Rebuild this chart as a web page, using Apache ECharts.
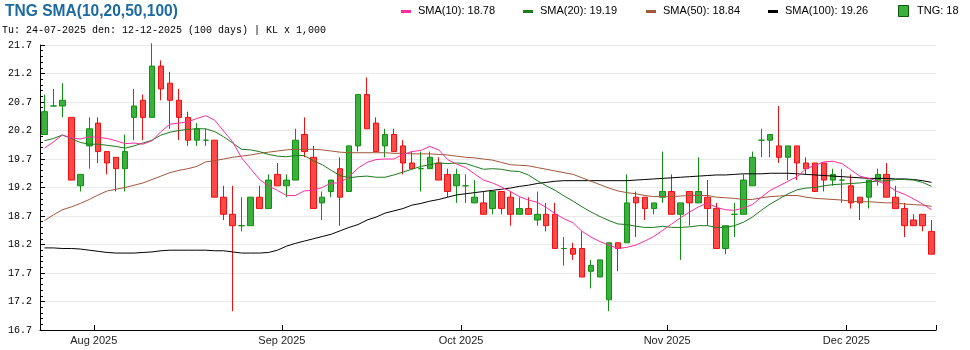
<!DOCTYPE html>
<html>
<head>
<meta charset="utf-8">
<script src="https://cdn.jsdelivr.net/npm/echarts@6/dist/echarts.min.js"></script>
<style>
  html, body { margin: 0; padding: 0; background: #ffffff; }
  #chart { width: 970px; height: 350px; }
</style>
</head>
<body>
<div id="chart"></div>
<script>
// Trading sessions, 24-07-2025 .. 12-12-2025
const dates = [
  '2025-07-24','2025-07-25','2025-07-28','2025-07-29','2025-07-30','2025-07-31',
  '2025-08-01','2025-08-04','2025-08-05','2025-08-06','2025-08-07','2025-08-08','2025-08-11','2025-08-12',
  '2025-08-13','2025-08-14','2025-08-15','2025-08-18','2025-08-19','2025-08-20','2025-08-21','2025-08-22',
  '2025-08-25','2025-08-26','2025-08-27','2025-08-28','2025-08-29',
  '2025-09-03','2025-09-04','2025-09-05','2025-09-08','2025-09-09','2025-09-10','2025-09-11','2025-09-12',
  '2025-09-15','2025-09-16','2025-09-17','2025-09-18','2025-09-19','2025-09-22','2025-09-23','2025-09-24',
  '2025-09-25','2025-09-26','2025-09-29','2025-09-30',
  '2025-10-01','2025-10-02','2025-10-03','2025-10-06','2025-10-07','2025-10-08','2025-10-09','2025-10-10',
  '2025-10-13','2025-10-14','2025-10-15','2025-10-16','2025-10-17','2025-10-20','2025-10-21','2025-10-22',
  '2025-10-23','2025-10-24','2025-10-27','2025-10-28','2025-10-29','2025-10-30','2025-10-31',
  '2025-11-03','2025-11-04','2025-11-05','2025-11-06','2025-11-07','2025-11-10','2025-11-11','2025-11-12',
  '2025-11-13','2025-11-14','2025-11-17','2025-11-18','2025-11-19','2025-11-20','2025-11-21','2025-11-24',
  '2025-11-25','2025-11-26','2025-11-27','2025-11-28',
  '2025-12-01','2025-12-02','2025-12-03','2025-12-04','2025-12-05','2025-12-08','2025-12-09','2025-12-10',
  '2025-12-11','2025-12-12'
];

// Daily prices (thousand VND)
const opens = [
  20.1,20.6,20.6,20.4,19.2,19.9,20.3,19.8,19.7,19.5, 20.4,20.7,20.4,21.3,21.0,20.7,20.4,20.0,20.0,20.0,
  19.0,18.7,18.5,18.5,19.0,18.8,19.4,19.2,19.3,20.1, 19.7,18.9,19.1,19.5,19.1,19.9,20.8,20.3,19.9,20.1,
  19.9,19.6,19.5,19.5,19.6,19.4,19.2,19.2,18.9,18.9, 18.8,19.1,19.0,18.7,18.8,18.6,18.7,18.7,18.1,18.1,
  18.1,17.7,17.6,17.2,18.2,18.2,19.0,19.0,18.8,19.0, 19.1,18.7,19.1,18.9,19.0,18.8,18.1,18.7,18.7,19.2,
  20.0,20.0,19.9,19.7,19.9,19.6,19.6,19.6,19.3,19.3, 19.2,19.0,19.0,19.3,19.4,19.0,18.8,18.6,18.7,18.4
];
const closes = [
  20.5,20.6,20.7,19.3,19.4,20.2,19.8,19.6,19.5,19.8, 20.6,20.4,21.3,20.9,20.7,20.4,20.0,20.2,20.0,19.0,
  18.7,18.5,18.5,19.0,18.8,19.3,19.2,19.3,20.0,19.8, 18.8,19.0,19.3,19.0,19.9,20.8,20.2,19.8,20.1,19.8,
  19.6,19.5,19.5,19.7,19.3,19.1,19.4,19.2,19.0,18.7, 19.1,18.8,18.7,18.8,18.7,18.7,18.5,18.1,18.1,18.0,
  17.6,17.8,17.9,18.2,18.1,18.9,18.9,18.8,18.9,19.1, 18.7,18.9,18.9,19.1,18.8,18.1,18.5,18.7,19.3,19.7,
  20.0,20.1,19.7,19.9,19.6,19.5,19.1,19.3,19.4,19.3, 18.9,18.9,19.3,19.4,19.0,18.8,18.5,18.5,18.5,18.0
];
const lows = [
  20.1,20.6,20.4,19.3,19.1,19.5,19.6,19.4,19.1,19.1, 20.0,20.0,20.4,20.7,20.2,20.0,19.9,19.9,19.9,19.0,
  18.6,17.0,18.4,18.5,18.8,18.8,19.2,19.0,19.3,19.7, 18.8,18.6,19.0,18.5,19.1,19.8,20.2,19.8,19.7,19.8,
  19.4,19.5,19.1,19.5,19.3,19.0,18.9,18.9,18.9,18.7, 18.7,18.7,18.5,18.7,18.7,18.5,18.4,18.1,17.8,17.9,
  17.6,17.4,17.6,17.0,17.7,18.2,18.3,18.6,18.7,18.9, 18.7,17.9,18.5,18.9,18.5,18.1,18.0,18.3,18.7,19.2,
  19.7,19.7,19.6,19.3,19.3,19.4,19.1,19.1,19.2,18.9, 18.8,18.6,18.8,19.2,19.0,18.8,18.3,18.5,18.4,18.0
];
const highs = [
  20.8,20.9,21.0,20.4,19.4,20.4,20.4,19.8,19.7,20.1, 20.9,20.8,21.7,21.4,21.2,20.9,20.5,20.3,20.2,20.0,
  19.2,19.2,19.0,19.0,19.2,19.4,19.6,19.4,20.2,20.4, 19.9,19.1,19.3,19.7,19.9,20.8,21.1,20.4,20.2,20.2,
  20.0,19.8,19.8,19.8,19.7,19.5,19.5,19.4,19.3,19.1, 19.1,19.1,19.1,19.0,19.0,19.1,18.9,18.9,18.3,18.2,
  18.4,17.9,17.9,18.2,18.2,19.4,19.1,19.0,18.9,19.8, 19.4,18.9,19.1,19.7,19.3,18.9,18.5,18.9,19.4,19.8,
  20.2,20.1,20.6,19.9,19.9,19.7,19.6,19.6,19.5,19.5, 19.4,19.0,19.3,19.5,19.6,19.2,18.9,18.7,18.7,18.6
];

// Moving averages
const sma10 = [
  19.86,19.97,20.09,20.04,20.02,20.06,20.05,20.03,19.99,19.94, 19.95,19.93,19.99,20.15,20.28,20.30,20.32,20.38,20.43,20.35,
  20.16,19.97,19.69,19.50,19.31,19.20,19.12,19.03,19.03,19.11, 19.12,19.17,19.25,19.25,19.36,19.51,19.61,19.66,19.67,19.67,
  19.75,19.80,19.82,19.89,19.83,19.66,19.58,19.52,19.41,19.30, 19.25,19.18,19.10,19.01,18.95,18.91,18.82,18.71,18.62,18.55,
  18.40,18.30,18.22,18.16,18.10,18.12,18.16,18.23,18.31,18.42, 18.53,18.64,18.74,18.83,18.90,18.82,18.78,18.77,18.81,18.87,
  19.00,19.12,19.20,19.28,19.36,19.50,19.56,19.62,19.63,19.59, 19.48,19.37,19.33,19.28,19.22,19.11,19.05,18.97,18.88,18.78
];
const sma20 = [
  19.99,20.03,20.09,20.03,19.96,19.93,19.93,19.91,19.89,19.86, 19.90,19.95,20.00,20.09,20.14,20.17,20.19,20.20,20.20,20.15,
  20.06,19.95,19.84,19.83,19.80,19.75,19.72,19.71,19.73,19.73, 19.64,19.57,19.47,19.38,19.34,19.36,19.37,19.35,19.35,19.39,
  19.44,19.49,19.54,19.57,19.60,19.59,19.60,19.59,19.54,19.49, 19.50,19.49,19.46,19.45,19.39,19.29,19.20,19.12,19.02,18.93,
  18.83,18.74,18.66,18.59,18.53,18.52,18.49,18.47,18.47,18.49, 18.47,18.47,18.48,18.50,18.50,18.47,18.47,18.50,18.56,18.65,
  18.77,18.88,18.97,19.06,19.13,19.16,19.17,19.20,19.22,19.23, 19.24,19.25,19.27,19.28,19.29,19.31,19.31,19.30,19.26,19.19
];
const sma50 = [
  18.59,18.69,18.78,18.83,18.89,18.96,19.04,19.11,19.14,19.17, 19.21,19.25,19.31,19.37,19.43,19.47,19.50,19.54,19.62,19.64,
  19.67,19.70,19.72,19.74,19.77,19.79,19.81,19.83,19.84,19.84, 19.84,19.83,19.81,19.79,19.78,19.78,19.78,19.78,19.78,19.77,
  19.77,19.76,19.76,19.76,19.75,19.74,19.72,19.70,19.69,19.67, 19.65,19.61,19.57,19.56,19.55,19.52,19.49,19.46,19.43,19.40,
  19.34,19.28,19.22,19.16,19.11,19.08,19.06,19.03,19.01,19.01, 19.01,19.02,19.03,19.03,19.03,19.00,18.99,18.98,18.96,18.96,
  18.99,19.01,19.02,19.03,19.03,19.00,18.98,18.97,18.96,18.95, 18.93,18.92,18.92,18.91,18.90,18.90,18.88,18.87,18.86,18.84
];
const sma100 = [
  18.11,18.11,18.10,18.10,18.09,18.07,18.05,18.03,18.02,18.02, 18.02,18.03,18.04,18.06,18.07,18.07,18.07,18.07,18.07,18.06,
  18.06,18.04,18.02,18.02,18.02,18.03,18.07,18.14,18.19,18.23, 18.27,18.31,18.35,18.41,18.47,18.52,18.60,18.65,18.72,18.76,
  18.80,18.86,18.89,18.93,18.96,19.00,19.04,19.06,19.08,19.10, 19.12,19.14,19.16,19.19,19.21,19.24,19.26,19.28,19.29,19.29,
  19.29,19.29,19.29,19.29,19.29,19.29,19.30,19.31,19.32,19.33, 19.34,19.35,19.36,19.37,19.38,19.39,19.39,19.40,19.41,19.41,
  19.41,19.42,19.42,19.42,19.41,19.40,19.39,19.38,19.37,19.36, 19.35,19.34,19.33,19.33,19.33,19.32,19.32,19.31,19.29,19.26
];

const yTicks = { min: 16.67, max: 21.67, step: 0.5 };
const monthNames = ['Jan','Feb','Mar','Apr','May','Jun','Jul','Aug','Sep','Oct','Nov','Dec'];

const COL = {
  sma10: '#ff2ca0', sma20: '#1d7a1d', sma50: '#a0583a', sma100: '#000000',
  upFill: '#3cb03c', upLine: '#109010', downFill: '#ff4848', downLine: '#ee1010',
  title: '#1b6aa0'
};

// unchanged sessions (open == close) are drawn in the rising colour
const candles = opens.map((o, i) => {
  const value = [o, closes[i], lows[i], highs[i]];
  if (o !== closes[i]) return value;
  return { value, itemStyle: { color: COL.upFill, color0: COL.upFill, borderColor: COL.upLine, borderColor0: COL.upLine } };
});

// first session of each new month gets a tick and a label
const isMonthStart = (idx) => idx > 0 && dates[idx].slice(5, 7) !== dates[idx - 1].slice(5, 7);

const sans = 'Arial, "Liberation Sans", sans-serif';
const mono = '"Liberation Mono", "DejaVu Sans Mono", monospace';

const legendItems = [
  { label: 'SMA(10)', color: COL.sma10, value: sma10[sma10.length - 1].toFixed(2), x: 401 },
  { label: 'SMA(20)', color: COL.sma20, value: sma20[sma20.length - 1].toFixed(2), x: 523 },
  { label: 'SMA(50)', color: COL.sma50, value: sma50[sma50.length - 1].toFixed(2), x: 646 },
  { label: 'SMA(100)', color: COL.sma100, value: sma100[sma100.length - 1].toFixed(2), x: 768 }
];
const graphics = [
  { type: 'text', x: 5, y: 3, scaleX: 0.915, scaleY: 1,
    style: { text: 'TNG SMA(10,20,50,100)', fill: COL.title, font: 'bold 17px ' + sans, verticalAlign: 'top' } },
  { type: 'text', x: 2, y: 25,
    style: { text: 'Tu: 24-07-2025 den: 12-12-2025 (100 days) | KL x 1,000', fill: '#000', font: '10px ' + mono, verticalAlign: 'top' } }
];
legendItems.forEach(it => {
  graphics.push({ type: 'rect', x: it.x, y: 10, shape: { width: 10, height: 3 }, style: { fill: it.color } });
  graphics.push({ type: 'text', x: it.x + 17, y: 5,
    style: { text: it.label + ': ' + it.value, fill: '#000', font: '11px ' + sans, verticalAlign: 'top' } });
});
graphics.push({ type: 'rect', x: 898.5, y: 5.5, shape: { width: 10, height: 11 },
  style: { fill: COL.upFill, stroke: '#0a5a0a', lineWidth: 1 } });
graphics.push({ type: 'text', x: 917, y: 5,
  style: { text: 'TNG: ' + closes[closes.length - 1], fill: '#000', font: '11px ' + sans, verticalAlign: 'top' } });

const chart = echarts.init(document.getElementById('chart'), null, { renderer: 'canvas' });

chart.setOption({
  animation: false,
  backgroundColor: '#ffffff',
  graphic: graphics,
  grid: { left: 40, right: 34, top: 45, bottom: 20, containLabel: false },
  xAxis: {
    type: 'category',
    data: dates,
    boundaryGap: true,
    axisLine: { show: true, lineStyle: { color: '#000', width: 1 } },
    axisTick: { show: true, inside: true, length: 5, alignWithLabel: false,
                interval: (idx) => isMonthStart(idx), lineStyle: { color: '#000' } },
    axisLabel: {
      show: true, interval: (idx) => isMonthStart(idx), margin: 5,
      color: '#222', fontSize: 11, fontFamily: sans, padding: [0, 9, 0, 0],
      formatter: (v) => monthNames[parseInt(v.slice(5, 7), 10) - 1] + ' ' + v.slice(0, 4)
    },
    splitLine: { show: false }
  },
  yAxis: {
    type: 'value',
    min: yTicks.min, max: yTicks.max, interval: yTicks.step,
    axisLine: { show: true, lineStyle: { color: '#000', width: 1 } },
    axisTick: { show: true, inside: true, length: 5, lineStyle: { color: '#000' } },
    minorTick: { show: true, splitNumber: 5, length: 3, lineStyle: { color: '#000' } },
    axisLabel: { show: true, margin: 8, color: '#000', fontSize: 10, fontFamily: mono,
                 formatter: (v) => (Math.round(v * 10) / 10).toFixed(1) },
    splitLine: { show: true, lineStyle: { color: '#e9e9e9', width: 1 } },
    minorSplitLine: { show: false }
  },
  series: [
    {
      name: 'TNG', type: 'candlestick', data: candles, barWidth: 6, clip: false,
      itemStyle: { color: COL.upFill, color0: COL.downFill, borderColor: COL.upLine, borderColor0: COL.downLine, borderWidth: 1 }
    },
    { name: 'SMA(100)', type: 'line', data: sma100, showSymbol: false, symbol: 'none', lineStyle: { color: COL.sma100, width: 1 } },
    { name: 'SMA(50)', type: 'line', data: sma50, showSymbol: false, symbol: 'none', lineStyle: { color: COL.sma50, width: 1 } },
    { name: 'SMA(20)', type: 'line', data: sma20, showSymbol: false, symbol: 'none', lineStyle: { color: COL.sma20, width: 1 } },
    { name: 'SMA(10)', type: 'line', data: sma10, showSymbol: false, symbol: 'none', lineStyle: { color: COL.sma10, width: 1 } }
  ]
});
</script>
</body>
</html>
